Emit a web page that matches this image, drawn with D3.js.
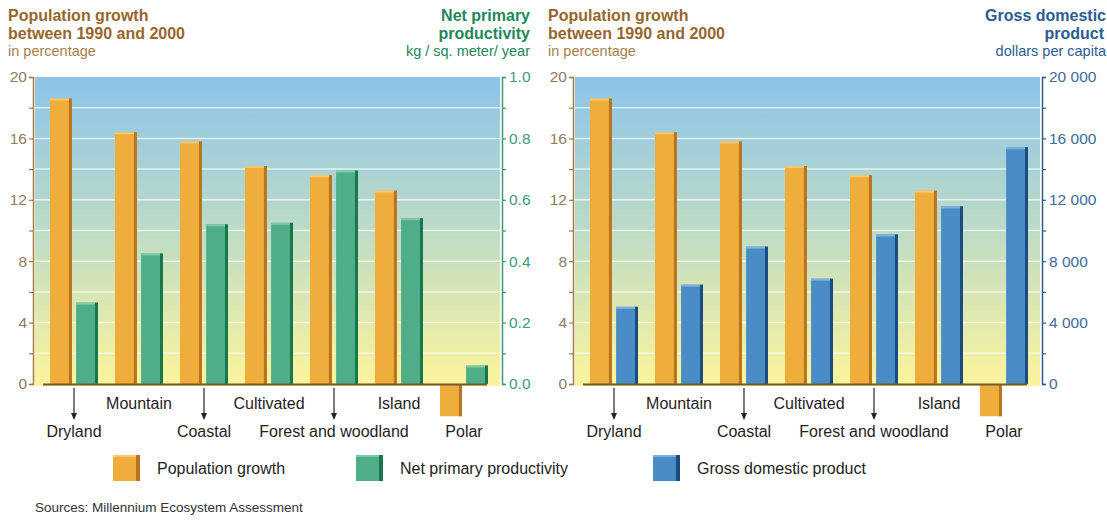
<!DOCTYPE html>
<html>
<head>
<meta charset="utf-8">
<script src="https://cdn.jsdelivr.net/npm/d3@7"></script>
<style>
  html, body { margin: 0; padding: 0; background: #ffffff; }
  svg { display: block; font-family: "Liberation Sans", Arial, Helvetica, sans-serif; }
</style>
</head>
<body>
<svg id="chart" width="1107" height="520"></svg>
<script>
// ---------- DATA ----------
const categories = ["Dryland", "Mountain", "Coastal", "Cultivated", "Forest and woodland", "Island", "Polar"];
const labelLowerRow = [true, false, true, false, true, false, true];
const labelArrow = [true, false, true, false, true, false, false];
const populationGrowth = [18.6, 16.4, 15.8, 14.2, 13.6, 12.6, -2.1];
const netPrimaryProductivity = [0.265, 0.425, 0.52, 0.525, 0.695, 0.54, 0.06];
const grossDomesticProduct = [5030, 6470, 8950, 6860, 9740, 11570, 15420];
const popTickValues = [0, 4, 8, 12, 16, 20];
const nppTickValues = [0.0, 0.2, 0.4, 0.6, 0.8, 1.0];
const gdpTickValues = [0, 4000, 8000, 12000, 16000, 20000];
const legendLabels = ["Population growth", "Net primary productivity", "Gross domestic product"];
const sourceText = "Sources: Millennium Ecosystem Assessment";

// ---------- STYLE ----------
const C = {
  orange: "#efad3c", orangeDark: "#b8741e", orangeLight: "#f6c870",
  green: "#4fae89", greenDark: "#17784c", greenLight: "#7cc8a8",
  blue: "#4a8cc6", blueDark: "#1c4c7e", blueLight: "#7fb0dc",
  brownTitle: "#96662c", brownSub: "#a67e4a", brownTick: "#8f7c62", brownAxis: "#a27a42",
  greenTitle: "#22875d", greenTick: "#3f9a80", greenAxis: "#3a9a74",
  blueTitle: "#2c5c92", blueTick: "#3f6a9c", blueAxis: "#2e5d8c"
};

const svg = d3.select("#chart");
const defs = svg.append("defs");
const grad = defs.append("linearGradient").attr("id", "bg").attr("x1", 0).attr("y1", 0).attr("x2", 0).attr("y2", 1);
grad.append("stop").attr("offset", "0%").attr("stop-color", "#8cc4e8");
grad.append("stop").attr("offset", "50%").attr("stop-color", "#bedcc6");
grad.append("stop").attr("offset", "100%").attr("stop-color", "#fcf49c");

const yTop = 77, yZero = 384;

function bar3d(g, x, w, y0, y1, fill, dark, light, topHighlight) {
  const top = Math.min(y0, y1), h = Math.abs(y1 - y0);
  g.append("rect").attr("x", x).attr("y", top).attr("width", w).attr("height", h).attr("fill", fill);
  g.append("rect").attr("x", x + w - 3).attr("y", top).attr("width", 3).attr("height", h).attr("fill", dark);
  if (topHighlight) {
    g.append("rect").attr("x", x).attr("y", top).attr("width", w - 3).attr("height", 2).attr("fill", light);
  }
}

function drawPanel(opt) {
  const ox = opt.ox;
  const g = svg.append("g");
  const bgX0 = ox + 35, bgX1 = ox + 500;

  const y = d3.scaleLinear().domain([0, 20]).range([yZero, yTop]);
  const y2 = d3.scaleLinear().domain(opt.domain2).range([yZero, yTop]);
  const x = d3.scaleBand().domain(categories).range([ox + 41.5, ox + 496.5]).padding(0);
  const xs = d3.scaleBand().domain([0, 1]).range([-24, 24]).paddingInner(0.16);

  // background
  g.append("rect").attr("x", bgX0).attr("y", yTop).attr("width", bgX1 - bgX0).attr("height", yZero + 2 - yTop).attr("fill", "url(#bg)");

  // gridlines
  g.append("g").selectAll("line").data(d3.range(2, 20, 2)).join("line")
    .attr("x1", bgX0).attr("x2", bgX1)
    .attr("y1", d => y(d)).attr("y2", d => y(d))
    .attr("stroke", "#ffffff").attr("stroke-opacity", 0.65).attr("stroke-width", 1.5);

  // bars
  const bars = g.append("g");
  categories.forEach((c, i) => {
    const cx = x(c) + x.bandwidth() / 2;
    const v = populationGrowth[i];
    bar3d(bars, cx + xs(0), xs.bandwidth(), y(0), y(v), C.orange, C.orangeDark, C.orangeLight, v > 0);
    const v2 = opt.values2[i];
    bar3d(bars, cx + xs(1), xs.bandwidth(), y2(0), y2(v2), opt.fill2, opt.dark2, opt.light2, true);
  });

  // zero line
  g.append("line").attr("x1", ox + 43).attr("x2", ox + 487).attr("y1", yZero + 0.5).attr("y2", yZero + 0.5)
    .attr("stroke", "#6e5a2e").attr("stroke-width", 2);

  // left axis
  const axL = g.append("g").attr("transform", `translate(${ox + 33},0)`)
    .call(d3.axisLeft(y).tickValues(d3.range(0, 21, 2)).tickSize(4).tickSizeOuter(4)
      .tickFormat(d => popTickValues.includes(d) ? d : ""));
  axL.select(".domain").attr("stroke", C.brownAxis).attr("stroke-width", 1.5);
  axL.selectAll(".tick line").attr("stroke", C.brownAxis).attr("stroke-width", 1.2);
  axL.selectAll(".tick text").attr("fill", C.brownTick).attr("font-size", 15.5).attr("x", -6)
    .attr("font-family", "Liberation Sans, Arial, sans-serif");

  // right axis
  const axR = g.append("g").attr("transform", `translate(${ox + 502},0)`)
    .call(d3.axisRight(y2).tickValues(opt.minorTicks2).tickSize(4).tickSizeOuter(4)
      .tickFormat(d => opt.ticks2.some(t => Math.abs(t - d) < 1e-9) ? opt.format2(d) : ""));
  axR.select(".domain").attr("stroke", opt.axis2).attr("stroke-width", 1.5);
  axR.selectAll(".tick line").attr("stroke", opt.axis2).attr("stroke-width", 1.2);
  axR.selectAll(".tick text").attr("fill", opt.tick2).attr("font-size", 15.5).attr("x", 7)
    .attr("font-family", "Liberation Sans, Arial, sans-serif");

  // left title
  const tl = g.append("g").attr("font-size", 16);
  tl.append("text").attr("x", ox + 8).attr("y", 21).attr("font-weight", "bold").attr("fill", C.brownTitle).text("Population growth");
  tl.append("text").attr("x", ox + 8).attr("y", 39).attr("font-weight", "bold").attr("fill", C.brownTitle).text("between 1990 and 2000");
  tl.append("text").attr("x", ox + 8).attr("y", 56).attr("font-size", 14.5).attr("fill", C.brownSub).text("in percentage");

  // right title
  const tr = g.append("g").attr("font-size", 16).attr("text-anchor", "end");
  tr.append("text").attr("x", opt.titleX).attr("y", 21).attr("font-weight", "bold").attr("fill", opt.title2Color).text(opt.title2[0]);
  tr.append("text").attr("x", opt.titleX - opt.title2Shift).attr("y", 39).attr("font-weight", "bold").attr("fill", opt.title2Color).text(opt.title2[1]);
  tr.append("text").attr("x", opt.titleX).attr("y", 56).attr("font-size", 14.5).attr("fill", opt.title2Color).text(opt.title2[2]);

  // category labels
  const lab = g.append("g").attr("font-size", 16).attr("fill", "#1e1e1e").attr("text-anchor", "middle");
  categories.forEach((c, i) => {
    const cx = x(c) + x.bandwidth() / 2;
    lab.append("text").attr("x", cx).attr("y", labelLowerRow[i] ? 437 : 409).text(c);
    if (labelArrow[i]) {
      lab.append("line").attr("x1", cx).attr("x2", cx).attr("y1", 388).attr("y2", 416)
        .attr("stroke", "#222").attr("stroke-width", 1.2);
      lab.append("path").attr("d", `M${cx - 3},${413} L${cx + 3},${413} L${cx},${420} Z`).attr("fill", "#222");
    }
  });
}

drawPanel({
  ox: 0,
  values2: netPrimaryProductivity,
  domain2: [0, 1],
  minorTicks2: d3.range(0, 11).map(d => d / 10),
  ticks2: nppTickValues,
  format2: d3.format(".1f"),
  fill2: C.green, dark2: C.greenDark, light2: C.greenLight,
  axis2: C.greenAxis, tick2: C.greenTick,
  title2: ["Net primary", "productivity", "kg / sq. meter/ year"],
  title2Color: C.greenTitle, titleX: 530, title2Shift: 0
});

drawPanel({
  ox: 540,
  values2: grossDomesticProduct,
  domain2: [0, 20000],
  minorTicks2: d3.range(0, 21, 2).map(d => d * 1000),
  ticks2: gdpTickValues,
  format2: d => d3.format(",")(d).replace(/,/g, " "),
  fill2: C.blue, dark2: C.blueDark, light2: C.blueLight,
  axis2: C.blueAxis, tick2: C.blueTick,
  title2: ["Gross domestic", "product", "dollars per capita"],
  title2Color: C.blueTitle, titleX: 1106, title2Shift: 2
});

// legend
const legendColors = [[C.orange, C.orangeDark, C.orangeLight], [C.green, C.greenDark, C.greenLight], [C.blue, C.blueDark, C.blueLight]];
const legendX = [113, 356, 653];
const lg = svg.append("g");
legendLabels.forEach((t, i) => {
  const [f, d, l] = legendColors[i];
  const x0 = legendX[i];
  lg.append("rect").attr("x", x0).attr("y", 455).attr("width", 27).attr("height", 26).attr("fill", f);
  lg.append("rect").attr("x", x0 + 23).attr("y", 455).attr("width", 4).attr("height", 26).attr("fill", d);
  lg.append("rect").attr("x", x0).attr("y", 455).attr("width", 23).attr("height", 2).attr("fill", l);
  lg.append("text").attr("x", x0 + 44).attr("y", 474).attr("font-size", 16).attr("fill", "#1e1e1e").text(t);
});

svg.append("text").attr("x", 35).attr("y", 512).attr("font-size", 13.5).attr("fill", "#333").text(sourceText);
</script>
</body>
</html>
